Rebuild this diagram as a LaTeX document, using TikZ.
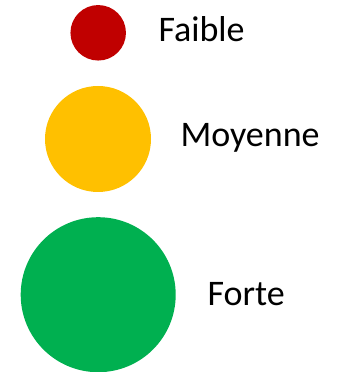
\documentclass[tikz,border=0pt]{standalone}
\usepackage{fontspec}
\setmainfont{Carlito}
\definecolor{cred}{HTML}{C00000}
\definecolor{cyellow}{HTML}{FFC000}
\definecolor{cgreen}{HTML}{00B050}
\begin{document}
\begin{tikzpicture}[x=1pt,y=1pt,
  dot/.style={circle,inner sep=0pt,draw=none},
  lbl/.style={anchor=base west,inner sep=0pt,font=\fontsize{36}{40}\selectfont}]
\useasboundingbox (0,0) rectangle (352,372);
\node[dot,fill=cred,minimum size=55.5] (r) at (98.2,339.2) {};
\node[dot,fill=cyellow,minimum size=106] (y) at (98,233) {};
\node[dot,fill=cgreen,minimum size=155] (g) at (98.2,77.3) {};
\node[lbl] (tr) at (158.3,330.3) {Faible};
\node[lbl] (ty) at (180.3,225.3) {Moyenne};
\node[lbl] (tg) at (207.3,66) {Forte};
\end{tikzpicture}
\end{document}
